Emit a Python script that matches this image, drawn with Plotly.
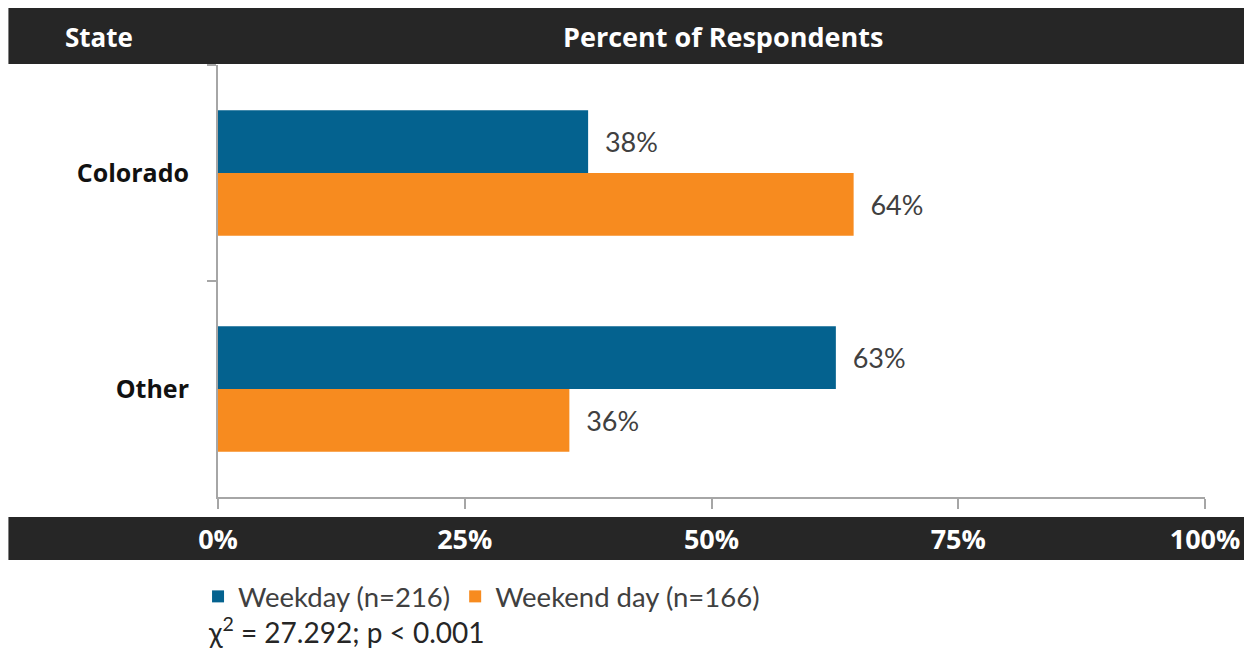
import plotly.graph_objects as go

categories = ["Colorado", "Other"]
weekday = [37.5, 62.6]
weekend = [64.4, 35.6]
series_names = ["Weekday (n=216)", "Weekend day (n=166)"]
tick_vals = [0, 25, 50, 75, 100]
tick_text = ["0%", "25%", "50%", "75%", "100%"]

BLUE = "#04628f"
ORANGE = "#f78b1f"
DARK = "#262626"
AXIS = "#a6a6a6"
BODY_FONT = "Lato"
BOLD_FONT = "Open Sans"

# page body has an 8px margin; work in page coordinates and shift
OFF = 8
W, H = 1252 - OFF, 668 - OFF
L, R, T, B = 218 - OFF, 45, 65 - OFF, 668 - 497
plot_w = W - L - R
plot_h = H - T - B


def px_x(x):
    return (x - OFF - L) / plot_w


def px_y(y):
    return (H - B - (y - OFF)) / plot_h


fig = go.Figure()
for name, vals, col in [(series_names[0], weekday, BLUE), (series_names[1], weekend, ORANGE)]:
    fig.add_trace(go.Bar(
        y=categories, x=vals, name=name, orientation="h",
        marker=dict(color=col, line=dict(width=0)),
        texttemplate="\u00a0\u00a0%{x:.0f}%", textposition="outside",
        textfont=dict(family=BODY_FONT, size=27, color="#404040"),
        cliponaxis=False,
    ))

fig.update_layout(
    width=W, height=H,
    margin=dict(l=L, r=R, t=T, b=B),
    paper_bgcolor="white", plot_bgcolor="white",
    barmode="group", bargap=0.42, bargroupgap=0,
    showlegend=True,
    legend=dict(
        orientation="h", x=px_x(198), xanchor="left", y=px_y(572), yanchor="top",
        font=dict(family=BODY_FONT, size=27.5, color="#404040"),
        traceorder="normal", itemwidth=30,
        bgcolor="rgba(0,0,0,0)",
    ),
    xaxis=dict(
        range=[0, 100], tickvals=tick_vals, ticktext=tick_text,
        showgrid=False, zeroline=False, showline=True, linecolor=AXIS, linewidth=2,
        ticks="outside", ticklen=10, tickwidth=2, tickcolor=AXIS,
        tickfont=dict(family=BOLD_FONT, size=27, color="white", weight="bold"),
        ticklabelstandoff=8,
    ),
    yaxis=dict(
        autorange="reversed", showgrid=False, zeroline=False,
        showline=True, linecolor=AXIS, linewidth=2,
        ticks="outside", ticklen=9, tickwidth=2, tickcolor=AXIS,
        tickson="boundaries",
        tickfont=dict(family=BOLD_FONT, size=25, color="#111111", weight="bold"),
        ticklabelstandoff=22,
    ),
    shapes=[
        dict(type="rect", xref="paper", yref="paper", layer="below",
             x0=px_x(8), x1=px_x(1252), y0=px_y(64), y1=px_y(8),
             fillcolor=DARK, line=dict(width=0)),
        dict(type="rect", xref="paper", yref="paper", layer="below",
             x0=px_x(8), x1=px_x(1252), y0=px_y(560), y1=px_y(517),
             fillcolor=DARK, line=dict(width=0)),
    ],
    annotations=[
        dict(text="State", xref="paper", yref="paper", x=px_x(99), y=px_y(37),
             xanchor="center", yanchor="middle", showarrow=False,
             font=dict(family=BOLD_FONT, size=26, color="white", weight="bold")),
        dict(text="Percent of Respondents", xref="paper", yref="paper", x=px_x(724), y=px_y(37),
             xanchor="center", yanchor="middle", showarrow=False,
             font=dict(family=BOLD_FONT, size=27, color="white", weight="bold")),
        dict(text="\u03c7<sup>2</sup> = 27.292; p &lt; 0.001", xref="paper", yref="paper",
             x=px_x(206), y=px_y(630), xanchor="left", yanchor="middle", showarrow=False,
             font=dict(family=BODY_FONT, size=28, color="#262626")),
    ],
)

fig.write_html("out.html")
